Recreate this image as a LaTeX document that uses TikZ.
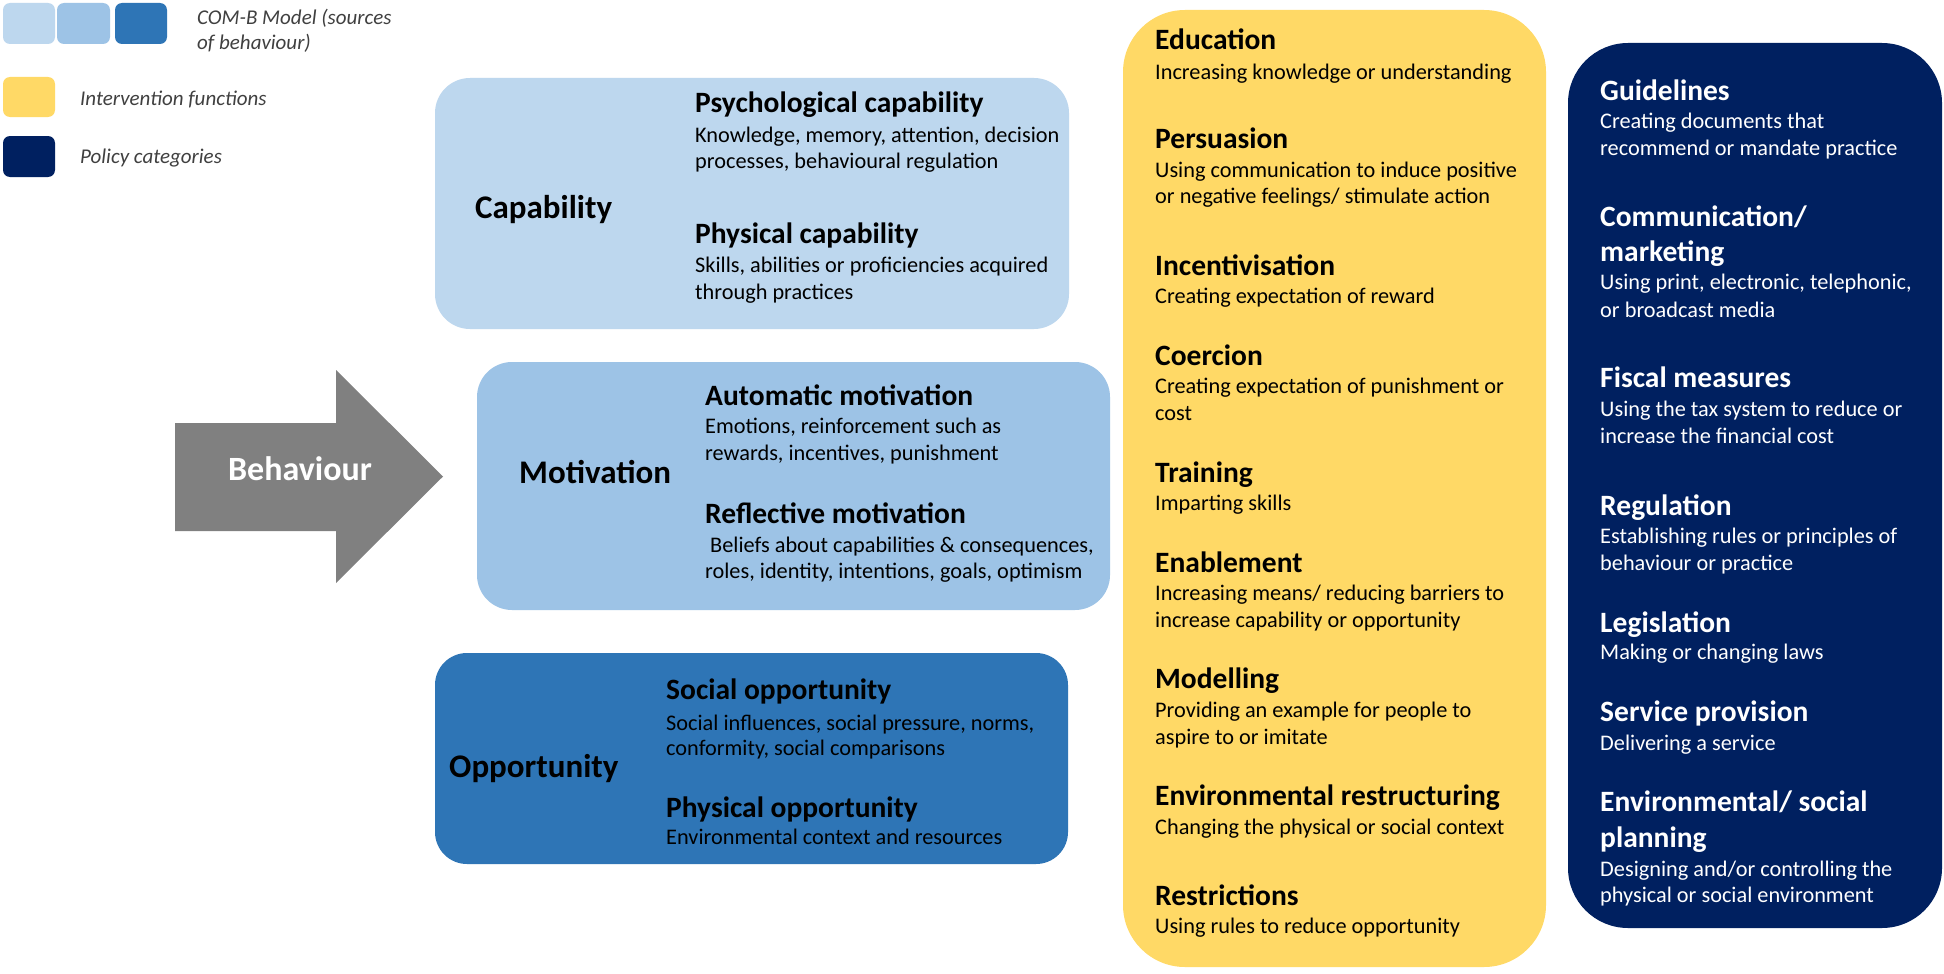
\documentclass[tikz,border=0pt]{standalone}
\usepackage{fontspec}
\setmainfont{Carlito}
\definecolor{capc}{HTML}{BDD7EE}
\definecolor{motc}{HTML}{9DC3E6}
\definecolor{oppc}{HTML}{2E75B6}
\definecolor{yelc}{HTML}{FFD966}
\definecolor{navc}{HTML}{002060}
\definecolor{arrc}{HTML}{808080}
\definecolor{legt}{HTML}{404040}
\begin{document}
\begin{tikzpicture}[x=1pt,y=-1pt,
  panel/.style={rectangle, draw=none, inner sep=0pt, outer sep=0pt},
  hd/.style={anchor=base west, inner sep=0pt, font=\fontsize{29.5}{34}\selectfont\bfseries},
  ds/.style={anchor=base west, inner sep=0pt, font=\fontsize{22.3}{26}\selectfont},
  big/.style={anchor=base west, inner sep=0pt, font=\fontsize{33}{38}\selectfont\bfseries},
  lg/.style={anchor=base west, inner sep=0pt, text=legt, font=\fontsize{21}{25}\selectfont\itshape}]
\path[use as bounding box, fill=white] (0,0) rectangle (1944,974);

% legend
\node[panel, fill=capc, rounded corners=7pt, minimum width=52pt, minimum height=41pt] (lg1) at (29,23.5) {};
\node[panel, fill=motc, rounded corners=7pt, minimum width=53pt, minimum height=41pt] (lg2) at (83.5,23.5) {};
\node[panel, fill=oppc, rounded corners=7pt, minimum width=52pt, minimum height=41pt] (lg3) at (141,23.5) {};
\node[panel, fill=yelc, rounded corners=7pt, minimum width=52pt, minimum height=40pt] (lgy) at (29,97) {};
\node[panel, fill=navc, rounded corners=7pt, minimum width=52pt, minimum height=41pt] (lgn) at (29,156.5) {};
\node[lg] (lgt1) at (197,25) {COM-B Model (sources};
\node[lg] (lgt2) at (197,50) {of behaviour)};
\node[lg] (lgt3) at (80,106) {Intervention functions};
\node[lg] (lgt4) at (80,163) {Policy categories};

% COM-B boxes
\node[panel, fill=capc, rounded corners=35pt, minimum width=634pt, minimum height=251pt] (cap) at (752,203.5) {};
\node[panel, fill=motc, rounded corners=35pt, minimum width=633pt, minimum height=248pt] (mot) at (793.5,486) {};
\node[panel, fill=oppc, rounded corners=32pt, minimum width=633pt, minimum height=211pt] (opp) at (751.5,758.5) {};

\node[big] (capt) at (475,218) {Capability};
\node[hd] (c1h) at (695,112) {Psychological capability};
\node[ds] (c1a) at (695,142) {Knowledge, memory, attention, decision};
\node[ds] (c1b) at (695,168) {processes, behavioural regulation};
\node[hd] (c2h) at (695,243) {Physical capability};
\node[ds] (c2a) at (695,272) {Skills, abilities or proficiencies acquired};
\node[ds] (c2b) at (695,299) {through practices};

\node[big] (mott) at (519,483) {Motivation};
\node[hd] (m1h) at (705,405) {Automatic motivation};
\node[ds] (m1a) at (705,433) {Emotions, reinforcement such as};
\node[ds] (m1b) at (705,460) {rewards, incentives, punishment};
\node[hd] (m2h) at (705,523) {Reflective motivation};
\node[ds] (m2a) at (710,552) {Beliefs about capabilities \& consequences,};
\node[ds] (m2b) at (705,578) {roles, identity, intentions, goals, optimism};

\node[big] (oppt) at (449,777) {Opportunity};
\node[hd] (o1h) at (666,699) {Social opportunity};
\node[ds] (o1a) at (666,730) {Social influences, social pressure, norms,};
\node[ds] (o1b) at (666,755) {conformity, social comparisons};
\node[hd] (o2h) at (666,817) {Physical opportunity};
\node[ds] (o2a) at (666,844) {Environmental context and resources};

% behaviour arrow
\fill[arrc] (175,423) -- (336,423) -- (336,370) -- (443,476.5) -- (336,583) -- (336,531) -- (175,531) -- cycle;
\node[anchor=base, inner sep=0pt, text=white, font=\fontsize{34}{40}\selectfont\bfseries] (beh) at (300,480) {Behaviour};

% intervention functions
\node[panel, fill=yelc, rounded corners=62pt, minimum width=423pt, minimum height=957pt] (ifn) at (1334.5,488.5) {};
\node[hd] (y1h) at (1155,50) {Education};
\node[ds] (y1a) at (1155,79) {Increasing knowledge or understanding};
\node[hd] (y2h) at (1155,148) {Persuasion};
\node[ds] (y2a) at (1155,177) {Using communication to induce positive};
\node[ds] (y2b) at (1155,203) {or negative feelings/ stimulate action};
\node[hd] (y3h) at (1155,275) {Incentivisation};
\node[ds] (y3a) at (1155,303) {Creating expectation of reward};
\node[hd] (y4h) at (1155,365) {Coercion};
\node[ds] (y4a) at (1155,393) {Creating expectation of punishment or};
\node[ds] (y4b) at (1155,420) {cost};
\node[hd] (y5h) at (1155,482) {Training};
\node[ds] (y5a) at (1155,510) {Imparting skills};
\node[hd] (y6h) at (1155,572) {Enablement};
\node[ds] (y6a) at (1155,600) {Increasing means/ reducing barriers to};
\node[ds] (y6b) at (1155,627) {increase capability or opportunity};
\node[hd] (y7h) at (1155,688) {Modelling};
\node[ds] (y7a) at (1155,717) {Providing an example for people to};
\node[ds] (y7b) at (1155,744) {aspire to or imitate};
\node[hd] (y8h) at (1155,805) {Environmental restructuring};
\node[ds] (y8a) at (1155,834) {Changing the physical or social context};
\node[hd] (y9h) at (1155,905) {Restrictions};
\node[ds] (y9a) at (1155,933) {Using rules to reduce opportunity};

% policy categories
\node[panel, fill=navc, rounded corners=60pt, minimum width=374pt, minimum height=885pt] (pol) at (1755,485.5) {};
\begin{scope}[every node/.append style={text=white}]
\node[hd] (p1h) at (1600,100) {Guidelines};
\node[ds] (p1a) at (1600,128) {Creating documents that};
\node[ds] (p1b) at (1600,155) {recommend or mandate practice};
\node[hd] (p2h) at (1600,226) {Communication/};
\node[hd] (p2i) at (1600,261) {marketing};
\node[ds] (p2a) at (1600,289) {Using print, electronic, telephonic,};
\node[ds] (p2b) at (1600,317) {or broadcast media};
\node[hd] (p3h) at (1600,387) {Fiscal measures};
\node[ds] (p3a) at (1600,416) {Using the tax system to reduce or};
\node[ds] (p3b) at (1600,443) {increase the financial cost};
\node[hd] (p4h) at (1600,515) {Regulation};
\node[ds] (p4a) at (1600,543) {Establishing rules or principles of};
\node[ds] (p4b) at (1600,570) {behaviour or practice};
\node[hd] (p5h) at (1600,632) {Legislation};
\node[ds] (p5a) at (1600,659) {Making or changing laws};
\node[hd] (p6h) at (1600,721) {Service provision};
\node[ds] (p6a) at (1600,750) {Delivering a service};
\node[hd] (p7h) at (1600,811) {Environmental/ social};
\node[hd] (p7i) at (1600,847) {planning};
\node[ds] (p7a) at (1600,876) {Designing and/or controlling the};
\node[ds] (p7b) at (1600,902) {physical or social environment};
\end{scope}
\end{tikzpicture}
\end{document}
